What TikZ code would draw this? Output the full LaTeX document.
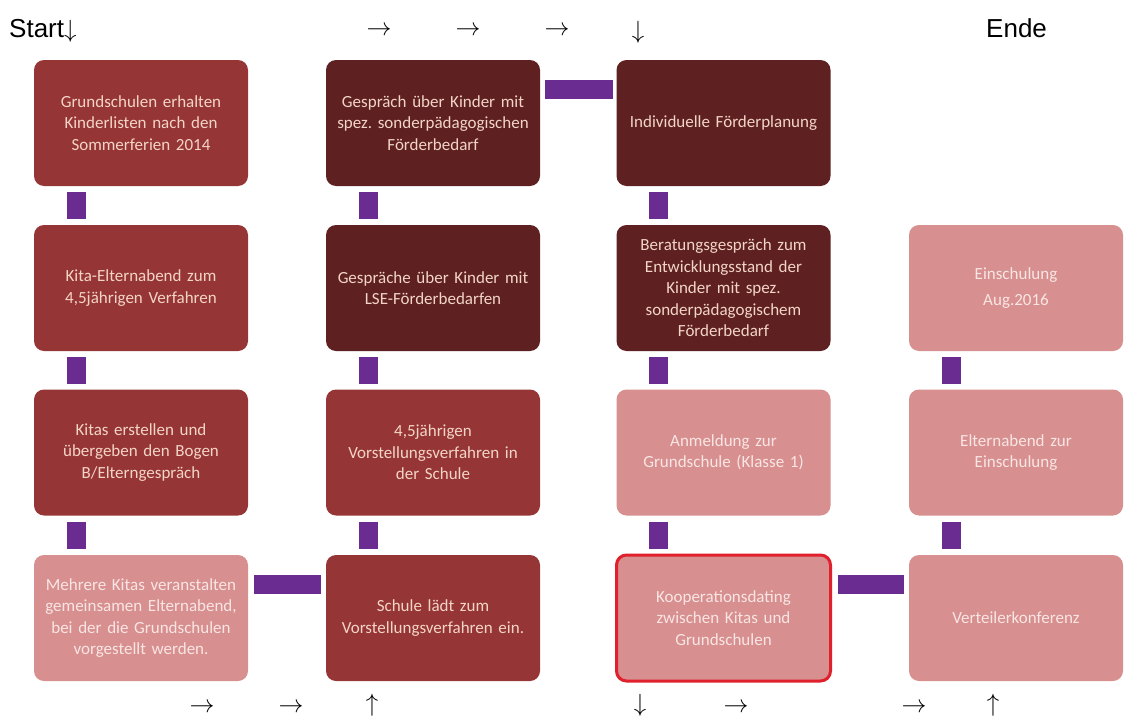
\documentclass[tikz,border=0pt]{standalone}
\usepackage{fontspec}
\setmainfont{Carlito}
\newfontfamily\arialf{Liberation Sans}
\frenchspacing
\definecolor{midred}{HTML}{963535}
\definecolor{darkred}{HTML}{5E2020}
\definecolor{pinkbox}{HTML}{D78F8F}
\definecolor{conncol}{HTML}{6A2C91}
\definecolor{txtdark}{HTML}{F3D5C8}
\definecolor{txtpink}{HTML}{F9E6E4}
\definecolor{hilite}{HTML}{E0202C}
\tikzset{
  box/.style={rounded corners=10pt, minimum width=214pt, minimum height=126pt,
    inner sep=0pt, outer sep=0pt, align=center, text width=206pt,
    font=\fontsize{17}{21.5}\selectfont},
  midbox/.style={box, fill=midred, text=txtdark},
  darkbox/.style={box, fill=darkred, text=txtdark},
  pinkbox/.style={box, fill=pinkbox, text=txtpink},
  conn/.style={draw=conncol, line width=19pt, line cap=butt, shorten <=6pt, shorten >=6pt},
  arr/.style={font=\fontsize{26}{26}\selectfont, inner sep=0pt, text=black},
  lbl/.style={font=\arialf\fontsize{26}{26}\selectfont, inner sep=0pt, text=black}
}
\begin{document}
\begin{tikzpicture}[x=1pt,y=-1pt]
\useasboundingbox (0,0) rectangle (1128,720);
% column 1
\node[midbox]  (a1) at (141,123) {Grundschulen erhalten\\Kinderlisten nach den\\Sommerferien 2014};
\node[midbox]  (a2) at (141,288) {Kita-Elternabend zum\\4,5jährigen Verfahren};
\node[midbox]  (a3) at (141,452.5) {Kitas erstellen und\\übergeben den Bogen\\B/Elterngespräch};
\node[pinkbox] (a4) at (141,618) {Mehrere Kitas veranstalten\\gemeinsamen Elternabend,\\bei der die Grundschulen\\vorgestellt werden.};
% column 2
\node[darkbox] (b1) at (433,123) {Gespräch über Kinder mit\\spez. sonderpädagogischen\\Förderbedarf};
\node[darkbox] (b2) at (433,288) {Gespräche über Kinder mit\\LSE-Förderbedarfen};
\node[midbox]  (b3) at (433,452.5) {4,5jährigen\\Vorstellungsverfahren in\\der Schule};
\node[midbox]  (b4) at (433,618) {Schule lädt zum\\Vorstellungsverfahren ein.};
% column 3
\node[darkbox] (c1) at (723.5,123) {Individuelle Förderplanung};
\node[darkbox] (c2) at (723.5,288) {Beratungsgespräch zum\\Entwicklungsstand der\\Kinder mit spez.\\sonderpädagogischem\\Förderbedarf};
\node[pinkbox] (c3) at (723.5,452.5) {Anmeldung zur\\Grundschule (Klasse 1)};
\node[pinkbox, draw=hilite, line width=3pt] (c4) at (723.5,618) {Kooperationsdating\\zwischen Kitas und\\Grundschulen};
% column 4
\node[pinkbox] (d2) at (1016,288) {Einschulung\\[5pt]Aug.2016};
\node[pinkbox] (d3) at (1016,452.5) {Elternabend zur\\Einschulung};
\node[pinkbox] (d4) at (1016,618) {Verteilerkonferenz};
% vertical connectors
\foreach \u/\v in {a1/a2,a2/a3,a3/a4,b1/b2,b2/b3,b3/b4,c1/c2,c2/c3,c3/c4,d2/d3,d3/d4}{
  \draw[conn] ([xshift=42pt]\u.south west) -- ([xshift=42pt]\v.north west);
}
% horizontal connectors
\draw[conn, shorten <=5pt, shorten >=4pt] ([yshift=-29.5pt]b1.north east) -- ([yshift=-29.5pt]c1.north west);
\draw[conn, shorten <=6pt, shorten >=5pt] ([yshift=-29pt]a4.north east) -- ([yshift=-29pt]b4.north west);
\draw[conn, shorten <=7pt, shorten >=5pt] ([yshift=-29pt]c4.north east) -- ([yshift=-29pt]d4.north west);
% top labels
\node[lbl, anchor=base west] (start) at (9,37) {Start$\downarrow$};
\node[lbl, anchor=base west] (ende) at (986,37) {Ende};
\node[arr] (t1) at (379,31) {$\rightarrow$};
\node[arr] (t2) at (468,31) {$\rightarrow$};
\node[arr] (t3) at (557,31) {$\rightarrow$};
\node[arr] (t4) at (638,32) {$\downarrow$};
% bottom labels
\node[arr] (u1) at (202,708) {$\rightarrow$};
\node[arr] (u2) at (291,708) {$\rightarrow$};
\node[arr] (u3) at (372,705) {$\uparrow$};
\node[arr] (u4) at (640,705) {$\downarrow$};
\node[arr] (u5) at (736,708) {$\rightarrow$};
\node[arr] (u6) at (914,708) {$\rightarrow$};
\node[arr] (u7) at (993,705) {$\uparrow$};
\end{tikzpicture}
\end{document}
